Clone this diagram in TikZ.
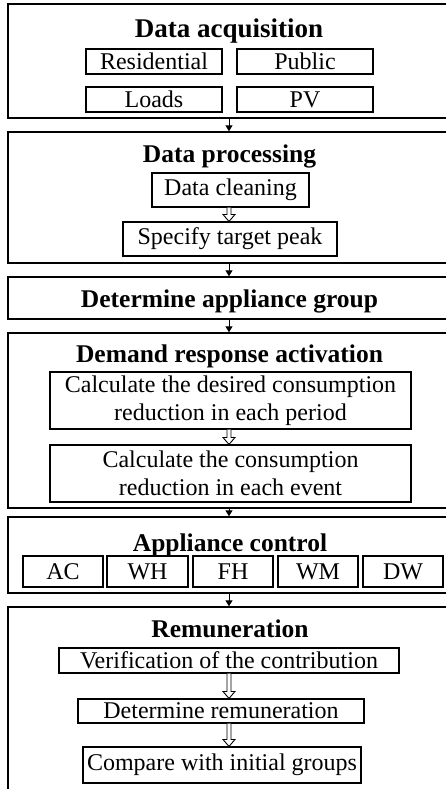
\documentclass[tikz,border=0pt]{standalone}
\usepackage{fontspec}
\setmainfont{Liberation Serif}
\usetikzlibrary{arrows.meta,calc}
\tikzset{
  outerbox/.style={draw, line width=1.4pt, inner sep=0pt},
  inbox/.style={draw, line width=1.1pt, inner sep=0pt, align=center,
    font=\fontsize{24}{28}\selectfont},
  ttl/.style={inner sep=0pt, anchor=base, font=\fontsize{25.5}{28}\selectfont\bfseries},
  flow/.style={line width=1pt, -{Triangle[width=7pt,length=6pt]}},
  hollow/.style={line width=0.9pt, fill=white,
    to path={let \p1=(\tikztostart), \p2=(\tikztotarget) in
      ({\x1-2pt},{\y1}) -- ({\x1-2pt},{\y2+7pt}) -- ({\x1-6pt},{\y2+7pt}) --
      ({\x1},{\y2}) -- ({\x1+6pt},{\y2+7pt}) -- ({\x1+2pt},{\y2+7pt}) -- ({\x1+2pt},{\y1})}}
}
\begin{document}
\begin{tikzpicture}[x=1pt,y=-1pt]
\useasboundingbox (0,0) rectangle (446,789);
\clip (0,0) rectangle (446,789);
% section 1
\node[outerbox, minimum width=442pt, minimum height=114pt] (s1) at (229,61) {};
\node[ttl, font=\fontsize{27}{30}\selectfont\bfseries] (t1) at (229,37.7) {Data acquisition};
\node[inbox, minimum width=136pt, minimum height=25pt] (res) at (154,61.5) {Residential};
\node[inbox, minimum width=136pt, minimum height=25pt] (pub) at (305,61.5) {Public};
\node[inbox, minimum width=136pt, minimum height=25pt] (loa) at (154,99.5) {Loads};
\node[inbox, minimum width=136pt, minimum height=25pt] (pv) at (305,99.5) {PV};
% section 2
\node[outerbox, minimum width=442pt, minimum height=131pt] (s2) at (229,197.5) {};
\node[ttl] (t2) at (229.5,162) {Data processing};
\node[inbox, minimum width=157pt, minimum height=34pt] (clean) at (230.5,190) {Data cleaning};
\node[inbox, minimum width=214pt, minimum height=34pt] (peak) at (230,239) {Specify target peak};
% section 3
\node[outerbox, minimum width=442pt, minimum height=42pt] (s3) at (229,298) {};
\node[ttl] (t3) at (229.5,307) {Determine appliance group};
% section 4
\node[outerbox, minimum width=442pt, minimum height=175pt] (s4) at (229,420.5) {};
\node[ttl] (t4) at (229.5,362) {Demand response activation};
\node[inbox, minimum width=361pt, minimum height=57pt] (calc1) at (230.5,400.5)
  {Calculate the desired consumption\\reduction in each period};
\node[inbox, minimum width=361pt, minimum height=57pt] (calc2) at (230.5,473.5)
  {Calculate the consumption\\reduction in each event};
% section 5
\node[outerbox, minimum width=442pt, minimum height=76pt] (s5) at (229,555) {};
\node[ttl] (t5) at (230,551.5) {Appliance control};
\node[inbox, minimum width=80pt, minimum height=31pt] (ac) at (63,571.5) {AC};
\node[inbox, minimum width=81pt, minimum height=31pt] (wh) at (147.5,571.5) {WH};
\node[inbox, minimum width=80pt, minimum height=31pt] (fh) at (233,571.5) {FH};
\node[inbox, minimum width=80pt, minimum height=31pt] (wm) at (318,571.5) {WM};
\node[inbox, minimum width=80pt, minimum height=31pt] (dw) at (403,571.5) {DW};
% section 6
\node[outerbox, minimum width=442pt, minimum height=193pt] (s6) at (229,703.5) {};
\node[ttl] (t6) at (230,637.7) {Remuneration};
\node[inbox, minimum width=340pt, minimum height=25pt] (ver) at (229,660.5) {Verification of the contribution};
\node[inbox, minimum width=286pt, minimum height=24pt] (rem) at (221,711) {Determine remuneration};
\node[inbox, minimum width=278pt, minimum height=36pt] (cmp) at (222,765) {Compare with initial groups};
% flow arrows between sections
\draw[flow] (s1.south) -- (s2.north);
\draw[flow] (s2.south) -- (s3.north);
\draw[flow] (s3.south) -- (s4.north);
\draw[flow] (s4.south) -- (s5.north);
\draw[flow] (s5.south) -- (s6.north);
% hollow arrows inside sections
\draw[hollow] (clean.south -| s2.center) to (peak.north -| s2.center);
\draw[hollow] (calc1.south -| s4.center) to (calc2.north -| s4.center);
\draw[hollow] (ver.south -| s6.center) to (rem.north -| s6.center);
\draw[hollow] (rem.south -| s6.center) to (cmp.north -| s6.center);
\end{tikzpicture}
\end{document}
